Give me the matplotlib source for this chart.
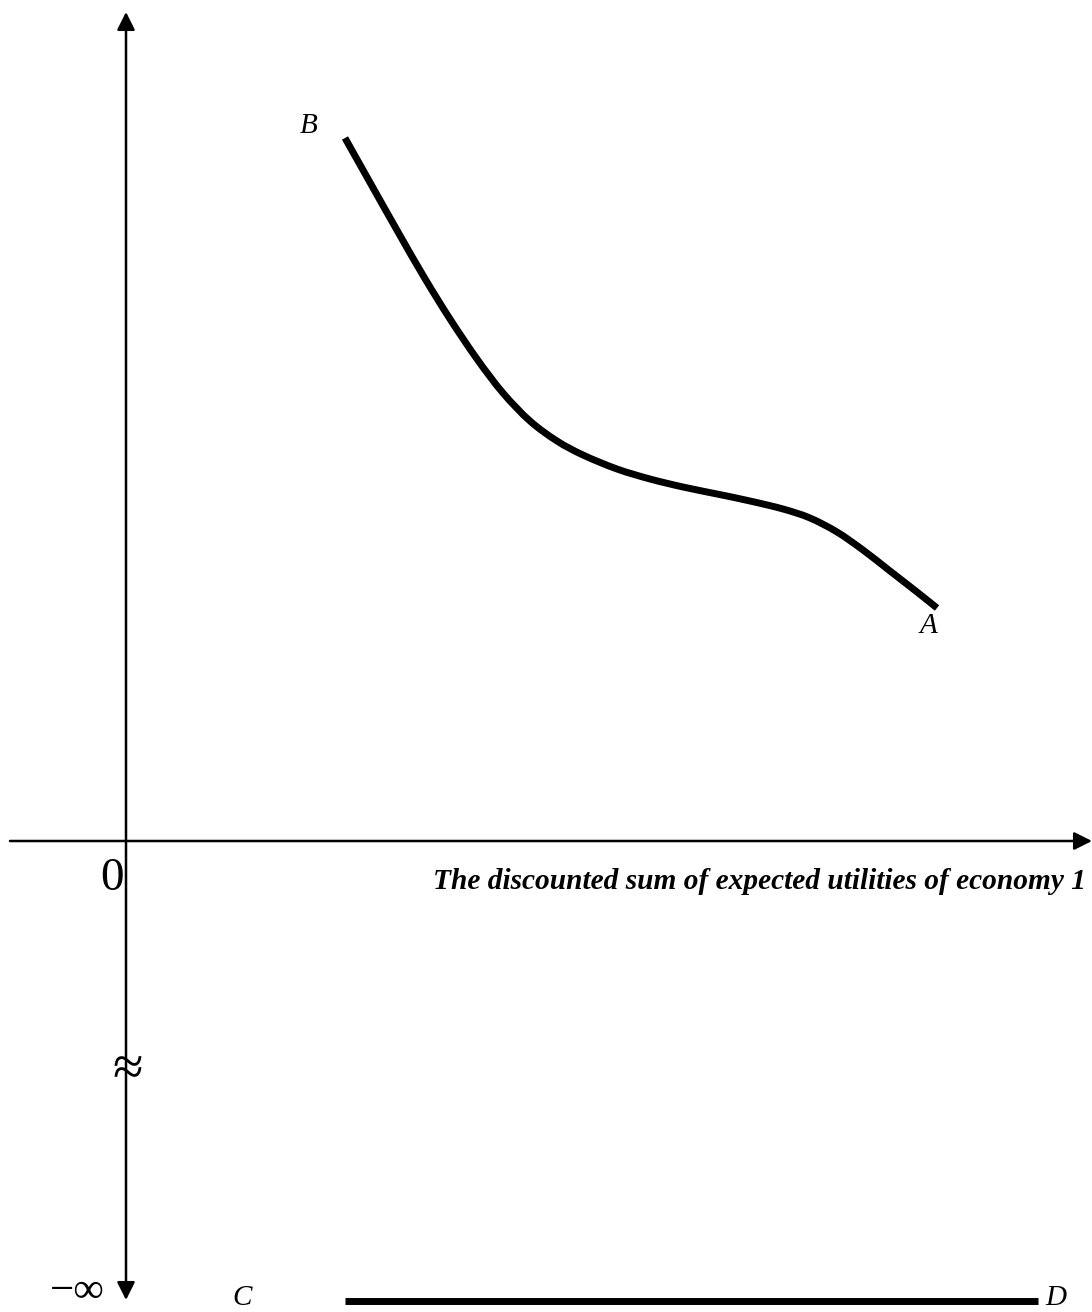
import matplotlib
matplotlib.use("Agg")
import matplotlib.pyplot as plt
from matplotlib.path import Path
from matplotlib.patches import PathPatch
import numpy as np

# Data (utility of economy 1, utility of economy 2), arbitrary units
frontier_x = [2.19, 2.46, 2.72, 2.98, 3.24, 3.51, 3.77, 4.04, 4.31, 4.57, 4.91, 5.24,
              5.57, 5.91, 6.24, 6.57, 6.84, 7.11, 7.37, 7.64, 7.91, 8.11]
frontier_y = [7.03, 6.55, 6.09, 5.64, 5.22, 4.82, 4.48, 4.20, 4.00, 3.86, 3.72, 3.62,
              3.54, 3.47, 3.40, 3.32, 3.23, 3.09, 2.91, 2.70, 2.49, 2.33]
cd_x = [2.19, 9.12]
cd_y = [-4.60, -4.60]   # the "minus infinity" level
labels = {"B": (1.74, 7.08), "A": (7.94, 2.08), "C": (1.06, -4.64), "D": (9.19, -4.64)}
xlabel_text = "The discounted sum of expected utilities of economy 1"

plt.rcParams["font.family"] = ["Liberation Serif", "DejaVu Serif"]
plt.rcParams["mathtext.fontset"] = "stix"

fig = plt.figure(figsize=(10.92, 13.12), dpi=100)
ax = fig.add_axes([0, 0, 1, 1])
ax.set_xlim(-1.26, 9.66)
ax.set_ylim(-4.71, 8.41)
ax.axis("off")

# axes with arrows
ax.annotate("", xy=(9.66, 0), xytext=(-1.16, 0),
            arrowprops=dict(arrowstyle="-|>", mutation_scale=27, lw=1.8,
                            color="black", shrinkA=0, shrinkB=0))
ax.annotate("", xy=(0, 8.29), xytext=(0, -4.59),
            arrowprops=dict(arrowstyle="<|-|>", mutation_scale=27, lw=1.8,
                            color="black", shrinkA=0, shrinkB=0))

# smooth curve through the read points (Catmull-Rom rendered as cubic Beziers)
pts = np.column_stack([frontier_x, frontier_y])
verts = [tuple(pts[0])]
codes = [Path.MOVETO]
n = len(pts)
for i in range(n - 1):
    p0 = pts[max(i - 1, 0)]
    p1 = pts[i]
    p2 = pts[i + 1]
    p3 = pts[min(i + 2, n - 1)]
    c1 = p1 + (p2 - p0) / 6.0
    c2 = p2 - (p3 - p1) / 6.0
    verts += [tuple(c1), tuple(c2), tuple(p2)]
    codes += [Path.CURVE4] * 3
ax.add_patch(PathPatch(Path(verts, codes), facecolor="none", edgecolor="black",
                       lw=5, capstyle="butt", joinstyle="round"))

ax.plot(cd_x, cd_y, color="black", lw=5, solid_capstyle="butt")

for name, (x, y) in labels.items():
    ax.text(x, y, name, fontsize=21, style="italic", ha="left", va="baseline")

ax.text(-0.26, -0.49, "0", fontsize=34, ha="left", va="baseline")
ax.text(3.07, -0.48, xlabel_text, fontsize=21.2, style="italic", weight="bold",
        ha="left", va="baseline")
ax.text(-0.76, -4.61, "\u2212\u221e", fontsize=31, ha="left", va="baseline")
ax.text(0.02, -2.30, "\u2248", fontsize=40, ha="center", va="center")

fig.savefig("out.png", dpi=100, facecolor="white")
